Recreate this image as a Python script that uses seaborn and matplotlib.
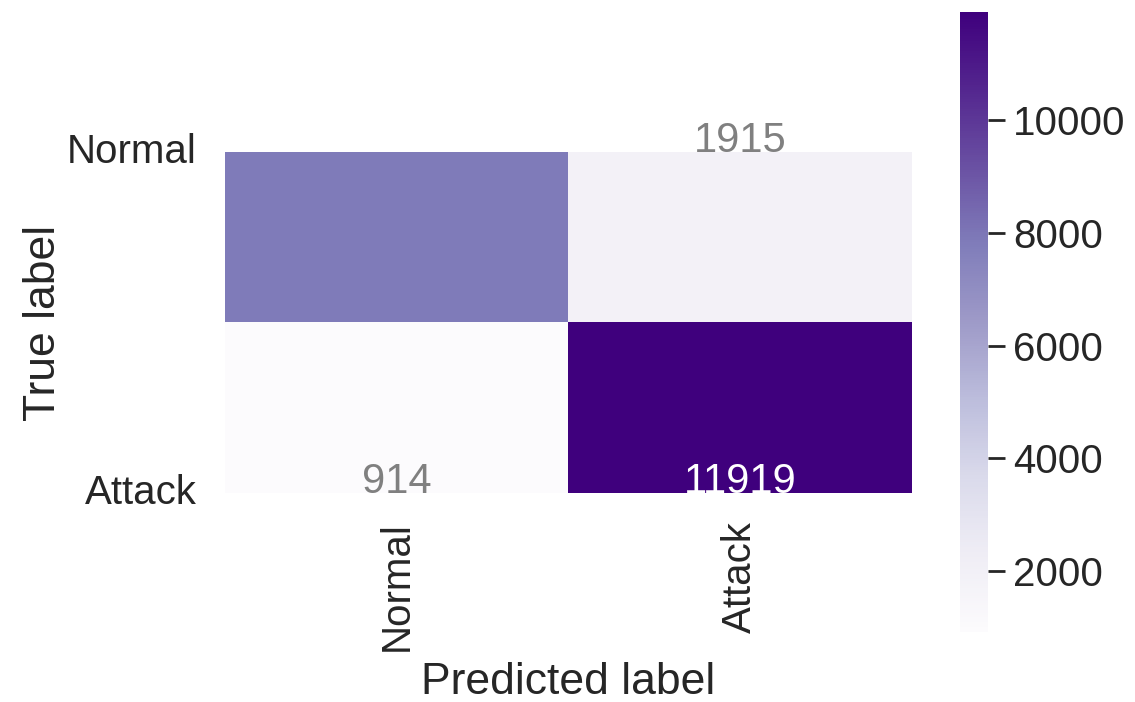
import numpy as np
import pandas as pd
import matplotlib
matplotlib.use("Agg")
import matplotlib.pyplot as plt
import seaborn as sns

# confusion matrix values (rows = true, cols = predicted)
labels = ["Normal", "Attack"]
row_normal = [7846, 1915]
row_attack = [914, 11919]

cm = pd.DataFrame([row_normal, row_attack], index=labels, columns=labels)

sns.set_style("white")
plt.rcParams['font.family'] = ['Liberation Sans', 'DejaVu Sans']

fig = plt.figure(figsize=(11.35, 7.02), dpi=100)
ax = fig.add_axes([0.198, 0.2977, 0.6053, 0.4858])
cax = fig.add_axes([0.8458, 0.0997, 0.0247, 0.883])

sns.heatmap(cm, annot=True, fmt="d", cmap="Purples", ax=ax, cbar_ax=cax,
            annot_kws={"size": 30, "va": "baseline"})

# the old cut-off heatmap look: only the inner half of each row shows
ax.set_ylim(1.5, 0.5)

for t in ax.texts:
    if t.get_color() != "w":
        t.set_color("#808080")

ax.set_xlabel("Predicted label", fontsize=32, labelpad=8)
ax.set_ylabel("True label", fontsize=32, labelpad=2)
ax.tick_params(axis="x", labelsize=29, rotation=90, length=0, pad=20)
ax.tick_params(axis="y", labelsize=29, rotation=0, length=0, pad=20)

cax.tick_params(labelsize=29, length=12, width=2, color=".15", pad=6, right=True)
cax.set_yticks([2000, 4000, 6000, 8000, 10000])
cax.set_frame_on(False)

fig.savefig("out.png", dpi=100)
